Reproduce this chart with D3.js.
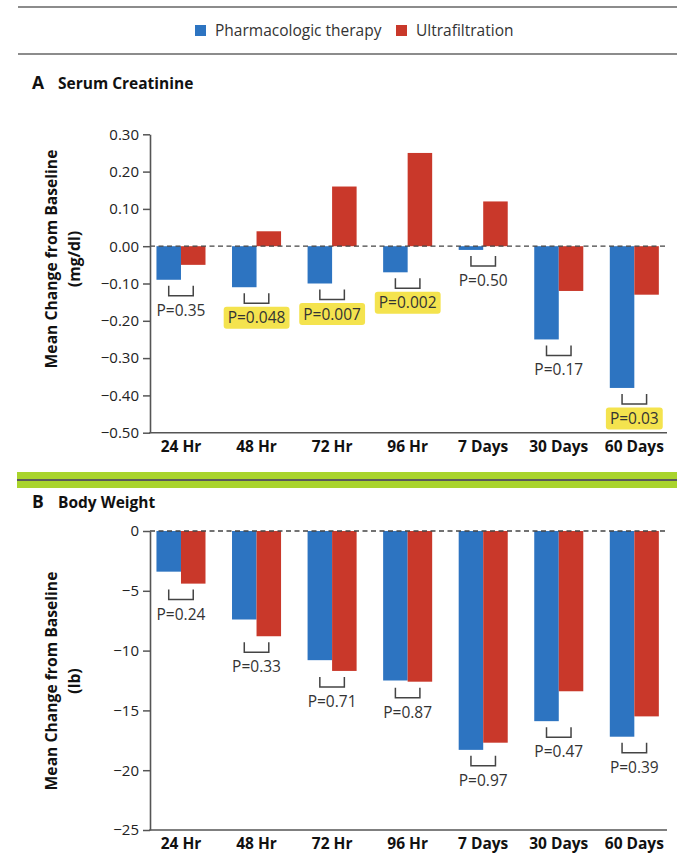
<!DOCTYPE html>
<html>
<head>
<meta charset="utf-8">
<script src="https://cdn.jsdelivr.net/npm/d3@7"></script>
<style>
  html, body { margin: 0; padding: 0; background: #fff; }
  svg { display: block; font-family: "Open Sans", Lato, sans-serif; }
</style>
</head>
<body>
<svg id="chart" width="677" height="856"></svg>
<script>
// ---------- data ----------
const categories = ["24 Hr", "48 Hr", "72 Hr", "96 Hr", "7 Days", "30 Days", "60 Days"];
const seriesNames = ["Pharmacologic therapy", "Ultrafiltration"];
const seriesColors = ["#2d74c1", "#c9382a"];

const creatPharm = [-0.09, -0.11, -0.10, -0.07, -0.01, -0.25, -0.38];
const creatUF    = [-0.05,  0.04,  0.16,  0.25,  0.12, -0.12, -0.13];
const creatP     = ["P=0.35", "P=0.048", "P=0.007", "P=0.002", "P=0.50", "P=0.17", "P=0.03"];
const creatSig   = [false, true, true, true, false, false, true];
const creatTicks = [0.30, 0.20, 0.10, 0.00, -0.10, -0.20, -0.30, -0.40, -0.50];

const weightPharm = [-3.4, -7.4, -10.8, -12.5, -18.3, -15.9, -17.2];
const weightUF    = [-4.4, -8.8, -11.7, -12.6, -17.7, -13.4, -15.5];
const weightP     = ["P=0.24", "P=0.33", "P=0.71", "P=0.87", "P=0.97", "P=0.47", "P=0.39"];
const weightSig   = [false, false, false, false, false, false, false];
const weightTicks = [0, -5, -10, -15, -20, -25];

// ---------- layout ----------
const FONT = '"Open Sans", Lato, sans-serif';
const svg = d3.select("#chart");
const axisLeftX = 150, axisRightX = 667;

const x = d3.scaleBand().domain(categories)
  .range([143.2, 672.1]).paddingInner(0.351).paddingOuter(0.1755);
const xSub = d3.scaleBand().domain(seriesNames).range([0, x.bandwidth()]);

// header rules
[7, 54].forEach(yy => {
  svg.append("line").attr("x1", 18).attr("x2", 677).attr("y1", yy).attr("y2", yy)
    .attr("stroke", "#8c8c8c").attr("stroke-width", 2);
});

// legend
const legend = svg.append("g");
const legendX = [195, 396];
seriesNames.forEach((name, i) => {
  legend.append("rect").attr("x", legendX[i]).attr("y", 25).attr("width", 11).attr("height", 11)
    .attr("fill", seriesColors[i]);
  legend.append("text").attr("x", legendX[i] + 20).attr("y", 36)
    .attr("font-size", 15.5).attr("fill", "#333").text(name);
});

// separator between panels
svg.append("rect").attr("x", 17).attr("y", 472).attr("width", 660).attr("height", 16).attr("fill", "#a9d42c");
svg.append("line").attr("x1", 17).attr("x2", 677).attr("y1", 480).attr("y2", 480)
  .attr("stroke", "#5a5a5a").attr("stroke-width", 1.8);

function panel(opts) {
  const g = svg.append("g");
  const y = d3.scaleLinear().domain(opts.domain).range(opts.range);

  // title
  g.append("text").attr("x", 32).attr("y", opts.titleY).attr("font-size", 17.5)
    .attr("font-weight", "bold").attr("fill", "#111").text(opts.letter);
  g.append("text").attr("x", 58).attr("y", opts.titleY).attr("font-size", 15.5)
    .attr("font-weight", "bold").attr("fill", "#111").text(opts.title);

  // y-axis title
  const yt = g.append("g").attr("transform", `translate(0,${opts.yTitleCenter}) rotate(-90)`);
  yt.append("text").attr("x", 0).attr("y", 57).attr("text-anchor", "middle")
    .attr("font-size", 15.7).attr("font-weight", "bold").attr("fill", "#111")
    .text("Mean Change from Baseline");
  yt.append("text").attr("x", 0).attr("y", 80).attr("text-anchor", "middle")
    .attr("font-size", 15.7).attr("font-weight", "bold").attr("fill", "#111")
    .text(opts.unit);

  // bars
  const data = categories.map((c, i) => ({ c, i, vals: [opts.a[i], opts.b[i]] }));
  const grp = g.selectAll(".grp").data(data).enter().append("g")
    .attr("transform", d => `translate(${x(d.c)},0)`);
  grp.selectAll("rect").data(d => d.vals.map((v, k) => ({ v, k }))).enter().append("rect")
    .attr("x", d => xSub(seriesNames[d.k]))
    .attr("width", xSub.bandwidth())
    .attr("y", d => y(Math.max(0, d.v)))
    .attr("height", d => Math.abs(y(d.v) - y(0)))
    .attr("fill", d => seriesColors[d.k]);

  // zero line
  g.append("line").attr("x1", axisLeftX).attr("x2", axisRightX)
    .attr("y1", y(0)).attr("y2", y(0))
    .attr("stroke", "#444").attr("stroke-width", 1.3).attr("stroke-dasharray", "5,3.5");

  // brackets + P labels
  data.forEach(d => {
    const low = Math.min(0, d.vals[0], d.vals[1]);
    const top = y(low) + 6;
    const bot = top + 10;
    const x1 = x(d.c) + xSub(seriesNames[0]) + xSub.bandwidth() / 2;
    const x2 = x(d.c) + xSub(seriesNames[1]) + xSub.bandwidth() / 2;
    g.append("path").attr("d", `M${x1},${top}V${bot}H${x2}V${top}`)
      .attr("fill", "none").attr("stroke", "#444").attr("stroke-width", 1.5);
    const cx = x(d.c) + x.bandwidth() / 2;
    const t = g.append("text").attr("x", cx).attr("y", bot + 20)
      .attr("text-anchor", "middle").attr("font-size", 15.5).attr("fill", "#333")
      .text(opts.p[d.i]);
    if (opts.sig[d.i]) {
      const bb = t.node().getBBox();
      g.insert("rect", () => t.node())
        .attr("x", bb.x - 4).attr("y", bb.y + 0.5)
        .attr("width", bb.width + 8).attr("height", bb.height)
        .attr("rx", 3).attr("fill", "#f4e34e");
    }
  });

  // y axis
  const ya = g.append("g").attr("transform", `translate(${axisLeftX},0)`)
    .call(d3.axisLeft(y).tickValues(opts.ticks).tickFormat(opts.fmt)
      .tickSize(7).tickSizeOuter(0).tickPadding(4));
  ya.select(".domain").attr("stroke", "#555").attr("stroke-width", 1.6);
  ya.selectAll(".tick line").attr("stroke", "#555").attr("stroke-width", 1.5);
  ya.selectAll(".tick text").attr("font-size", 15).attr("fill", "#222")
    .attr("font-family", FONT);

  // x axis
  g.append("line").attr("x1", axisLeftX - 0.8).attr("x2", axisRightX)
    .attr("y1", y(opts.domain[0])).attr("y2", y(opts.domain[0]))
    .attr("stroke", "#555").attr("stroke-width", 1.6);
  const xa = g.append("g").attr("transform", `translate(0,${y(opts.domain[0])})`)
    .call(d3.axisBottom(x).tickSize(0).tickPadding(8));
  xa.select(".domain").remove();
  xa.selectAll(".tick text").attr("font-size", 15.5).attr("font-weight", "bold")
    .attr("fill", "#111").attr("font-family", FONT);
}

panel({
  letter: "A", title: "Serum Creatinine", titleY: 89, unit: "(mg/dl)",
  domain: [-0.5, 0.3], range: [432.7, 134.3], ticks: creatTicks,
  fmt: d3.format(".2f"), a: creatPharm, b: creatUF, p: creatP, sig: creatSig,
  yTitleCenter: 259
});

panel({
  letter: "B", title: "Body Weight", titleY: 508, unit: "(lb)",
  domain: [-25, 0], range: [830, 531], ticks: weightTicks,
  fmt: d3.format("d"), a: weightPharm, b: weightUF, p: weightP, sig: weightSig,
  yTitleCenter: 681
});
</script>
</body>
</html>
